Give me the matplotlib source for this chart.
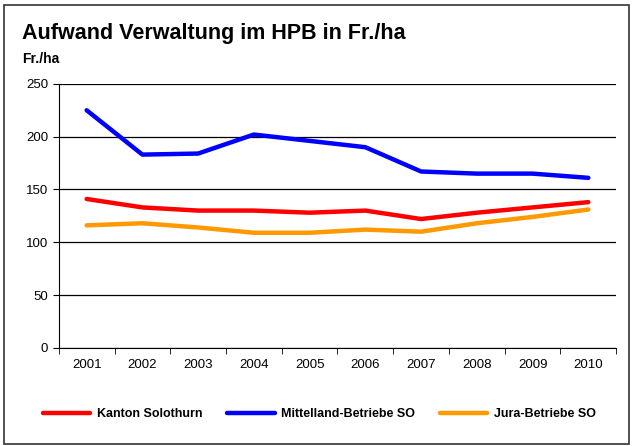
#!/usr/bin/env python3
import matplotlib.pyplot as plt
from matplotlib.patches import Rectangle

years = ["2001", "2002", "2003", "2004", "2005", "2006", "2007", "2008", "2009", "2010"]
kanton = [141, 133, 130, 130, 128, 130, 122, 128, 133, 138]
mittelland = [225, 183, 184, 202, 196, 190, 167, 165, 165, 161]
jura = [116, 118, 114, 109, 109, 112, 110, 118, 124, 131]

plt.rcParams["font.family"] = ["Liberation Sans", "DejaVu Sans"]

fig = plt.figure(figsize=(6.32, 4.46), dpi=100)
fig.patches.append(Rectangle((0.006, 0.004), 0.99, 0.985, transform=fig.transFigure,
                             fill=False, edgecolor="#333333", linewidth=1.2))
ax = fig.add_axes([0.093, 0.22, 0.882, 0.592])

x = range(len(years))
ax.plot(x, kanton, color="#ff0000", lw=3.2, label="Kanton Solothurn", solid_capstyle="round")
ax.plot(x, mittelland, color="#0000ff", lw=3.2, label="Mittelland-Betriebe SO", solid_capstyle="round")
ax.plot(x, jura, color="#ff9900", lw=3.2, label="Jura-Betriebe SO", solid_capstyle="round")

ax.set_xlim(-0.5, len(years) - 0.5)
ax.set_ylim(0, 250)
ax.set_yticks(range(0, 251, 50))
ax.set_xticks(x)
ax.set_xticklabels(years)
ax.set_xticks([i - 0.5 for i in range(len(years) + 1)], minor=True)
ax.tick_params(axis="x", which="major", length=0, pad=8, labelsize=9.5)
ax.tick_params(axis="x", which="minor", length=4, direction="out")
ax.tick_params(axis="y", length=4, direction="out", labelsize=9.5)
ax.grid(axis="y", color="black", lw=0.9)
ax.set_axisbelow(True)
for s in ["top", "right"]:
    ax.spines[s].set_visible(False)

fig.text(0.035, 0.925, "Aufwand Verwaltung im HPB in Fr./ha", fontsize=15.5, fontweight="bold", va="center")
fig.text(0.035, 0.868, "Fr./ha", fontsize=10, fontweight="bold", va="center")

fig.legend(loc="center", bbox_to_anchor=(0.505, 0.072), ncol=3, frameon=False,
           prop={"weight": "bold", "size": 9}, handlelength=3.8, handletextpad=0.5,
           columnspacing=2.0)

fig.savefig("out.png", dpi=100)
